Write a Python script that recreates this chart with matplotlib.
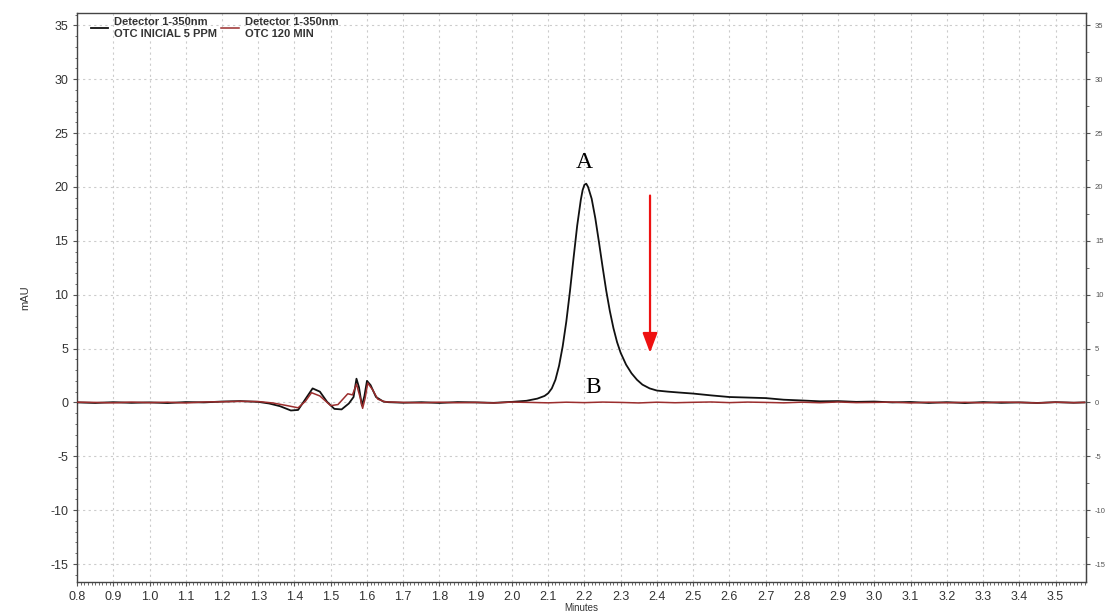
import matplotlib.pyplot as plt
from matplotlib.ticker import MultipleLocator

plt.rcParams['font.family'] = ['Liberation Sans', 'DejaVu Sans']
plt.rcParams['axes.unicode_minus'] = False

# retention time (min) / absorbance (mAU), initial OTC 5 ppm sample
t_initial = [0.80, 0.85, 0.90, 0.95, 1.00, 1.05, 1.10, 1.15, 1.20, 1.25, 1.30,
             1.33, 1.36, 1.39, 1.41, 1.43, 1.45, 1.47, 1.49, 1.51, 1.53, 1.55,
             1.563, 1.571, 1.578, 1.586, 1.593, 1.600, 1.610, 1.625, 1.645,
             1.66, 1.70, 1.75, 1.80, 1.85, 1.90, 1.95, 2.00, 2.04, 2.07, 2.09,
             2.10, 2.11, 2.12, 2.13, 2.14, 2.15, 2.16, 2.17, 2.18, 2.19, 2.195,
             2.20, 2.205, 2.21, 2.22, 2.23, 2.24, 2.25, 2.26, 2.27, 2.28, 2.29,
             2.30, 2.315, 2.33, 2.345, 2.36, 2.38, 2.40, 2.43, 2.46, 2.50,
             2.55, 2.60, 2.65, 2.70, 2.75, 2.80, 2.85, 2.90, 2.95, 3.00, 3.05,
             3.10, 3.15, 3.20, 3.25, 3.30, 3.35, 3.40, 3.45, 3.50, 3.55, 3.58]
y_initial = [0.00, -0.05, 0.02, -0.04, 0.00, -0.06, 0.03, 0.00, 0.08, 0.12, 0.05,
             -0.10, -0.35, -0.75, -0.70, 0.30, 1.30, 1.00, 0.05, -0.60, -0.65, -0.10,
             0.50, 2.20, 1.40, -0.30, 0.60, 2.00, 1.60, 0.50, 0.08,
             0.02, -0.03, 0.02, -0.05, 0.03, 0.00, -0.04, 0.05, 0.15, 0.35, 0.60,
             0.85, 1.30, 2.10, 3.40, 5.20, 7.50, 10.3, 13.4, 16.4, 18.8, 19.7,
             20.2, 20.3, 20.0, 18.9, 17.1, 14.9, 12.6, 10.4, 8.50, 6.90, 5.60,
             4.60, 3.50, 2.70, 2.10, 1.65, 1.30, 1.10, 1.00, 0.92, 0.82,
             0.65, 0.50, 0.45, 0.40, 0.25, 0.18, 0.10, 0.12, 0.05, 0.08, 0.00,
             0.04, -0.05, 0.02, -0.06, 0.03, -0.04, 0.00, -0.05, 0.02, -0.03, 0.00]

# same detector, sample after 120 min of treatment
t_final = [0.80, 0.85, 0.90, 0.95, 1.00, 1.05, 1.10, 1.15, 1.20, 1.25, 1.30,
           1.34, 1.38, 1.41, 1.43, 1.447, 1.47, 1.50, 1.52, 1.547, 1.56,
           1.571, 1.580, 1.588, 1.595, 1.602, 1.615, 1.63, 1.65, 1.70, 1.75,
           1.80, 1.85, 1.90, 1.95, 2.00, 2.05, 2.10, 2.15, 2.20, 2.25, 2.30,
           2.35, 2.40, 2.45, 2.50, 2.55, 2.60, 2.65, 2.70, 2.75, 2.80, 2.85,
           2.90, 2.95, 3.00, 3.05, 3.10, 3.15, 3.20, 3.25, 3.30, 3.35, 3.40,
           3.45, 3.50, 3.55, 3.58]
y_final = [0.02, 0.00, -0.04, 0.03, -0.02, 0.02, -0.05, 0.04, 0.06, 0.10, 0.08,
           -0.05, -0.30, -0.50, 0.10, 0.90, 0.60, -0.30, -0.20, 0.80, 0.70,
           1.70, 0.60, -0.55, 0.40, 1.80, 1.20, 0.30, 0.05, 0.00, -0.04,
           0.02, -0.03, 0.00, -0.05, 0.03, 0.00, -0.04, 0.02, -0.02, 0.03, 0.00,
           -0.05, 0.02, -0.03, 0.01, 0.04, -0.02, 0.03, 0.00, -0.04, 0.02, -0.03,
           0.04, -0.02, 0.00, 0.03, -0.05, 0.02, -0.03, 0.01, -0.04, 0.03, 0.00,
           -0.05, 0.02, -0.02, 0.00]

labels = ['Detector 1-350nm\nOTC INICIAL 5 PPM', 'Detector 1-350nm\nOTC 120 MIN']
colors = ['#111111', '#9b2d2d']
y_ticks = [-15, -10, -5, 0, 5, 10, 15, 20, 25, 30, 35]

fig = plt.figure(figsize=(11.18, 6.12), dpi=100)
ax = fig.add_axes([0.0689, 0.049, 0.9025, 0.929])

ax.plot(t_initial, y_initial, color=colors[0], lw=1.3, label=labels[0], zorder=3)
ax.plot(t_final, y_final, color=colors[1], lw=1.1, label=labels[1], zorder=4)

ax.set_xlim(0.8, 3.584)
ax.set_ylim(-16.67, 36.1)

ax.xaxis.set_major_locator(MultipleLocator(0.1))
ax.xaxis.set_minor_locator(MultipleLocator(0.01))
ax.set_yticks(y_ticks)
ax.yaxis.set_minor_locator(MultipleLocator(1))
ax.xaxis.set_major_formatter(plt.FuncFormatter(lambda v, p: f'{v:.1f}'))

ax.grid(True, which='major', color='#cccccc', lw=0.8, ls=(0, (2, 3)))
for s in ax.spines.values():
    s.set_color('#444444')
    s.set_linewidth(1.0)

ax.tick_params(which='both', direction='out', colors='#555555', labelcolor='#333333')
ax.tick_params(which='major', length=3, labelsize=9)
ax.tick_params(which='minor', length=1.8, width=0.6)

# right-hand scale repeats the mAU axis with tiny labels
sec = ax.secondary_yaxis('right')
sec.set_yticks(y_ticks)
sec.yaxis.set_minor_locator(MultipleLocator(2.5))
sec.tick_params(which='major', length=3, labelsize=5.5, colors='#555555', labelcolor='#555555')
sec.tick_params(which='minor', length=2, colors='#555555')
sec.spines['right'].set_color('#444444')

ax.set_xlabel('Minutes', fontsize=7, color='#333333', labelpad=0)
ax.set_ylabel('mAU', fontsize=8, color='#333333', labelpad=14)

leg = ax.legend(loc='upper left', ncol=2, frameon=False, fontsize=8,
                handlelength=1.6, handletextpad=0.5, columnspacing=0.4,
                borderaxespad=0.1, bbox_to_anchor=(0.008, 1.003))
for txt in leg.get_texts():
    txt.set_fontweight('bold')
    txt.set_color('#333333')
    txt.set_linespacing(1.2)

# peak labels and decay arrow
ax.text(2.200, 21.3, 'A', fontsize=17, family='Liberation Serif', ha='center', va='bottom')
ax.text(2.225, 0.4, 'B', fontsize=17, family='Liberation Serif', ha='center', va='bottom')
ax.annotate('', xy=(2.381, 4.6), xytext=(2.381, 19.2),
            arrowprops=dict(arrowstyle='-|>,head_length=1.2,head_width=0.45',
                            color='#ee1111', lw=1.6, shrinkA=0, shrinkB=0))

fig.savefig('out.png', dpi=100)
